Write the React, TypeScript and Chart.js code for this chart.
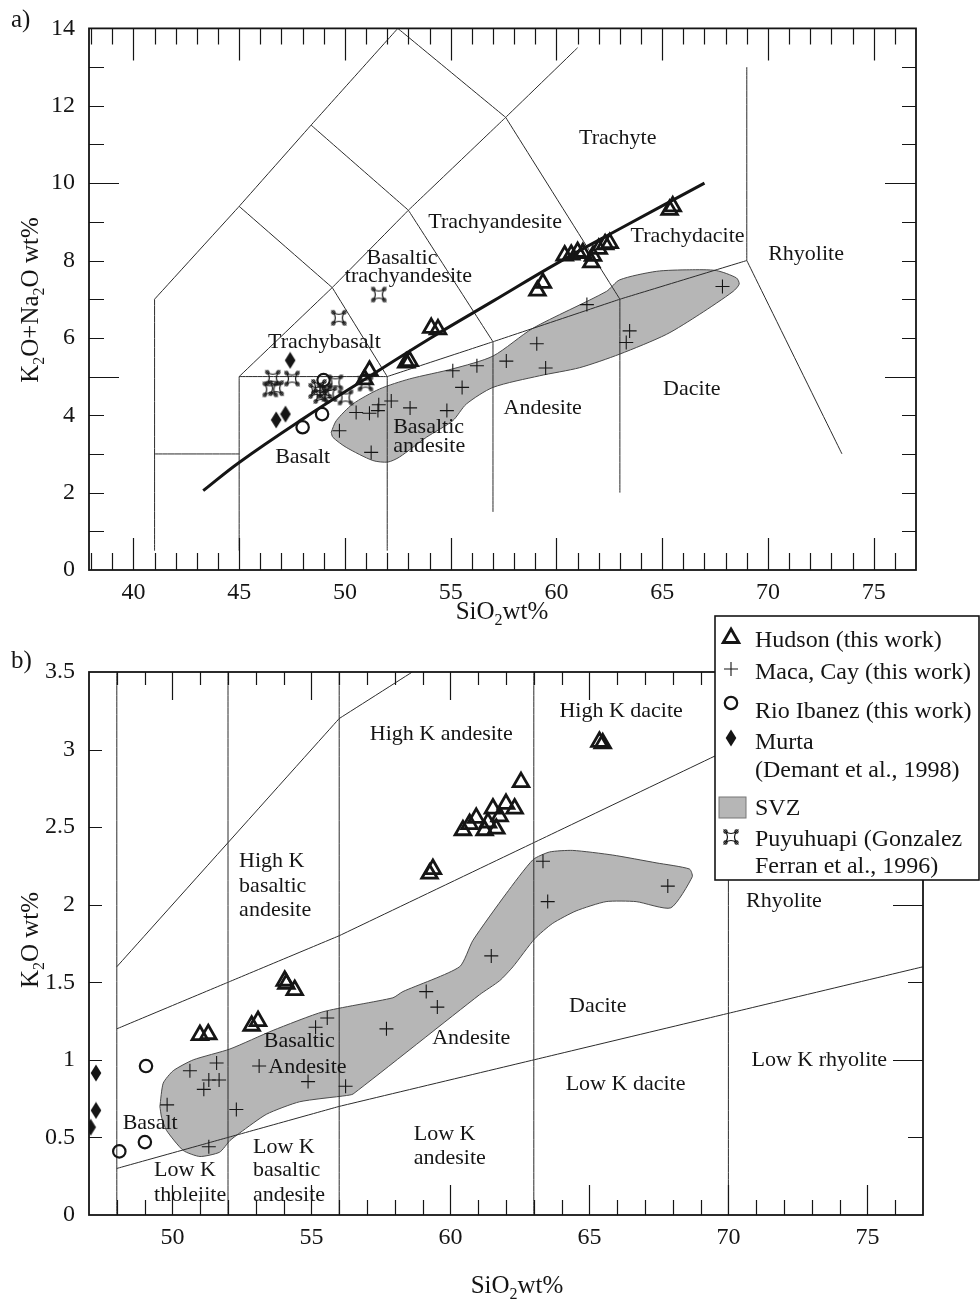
import React, { useEffect, useRef } from 'react';
import { Chart, registerables } from 'chart.js';

Chart.register(...registerables);

type Pt = [number, number];
type Label = [string, number, number, ('left' | 'center')?];
type Kind = 'hudson' | 'maca' | 'rio' | 'murta' | 'puyu';

const FONT = "'Liberation Serif', 'Times New Roman', Times, serif";
const INK = '#151515';
const LINE_INK = '#2b2b2b';
const SVZ_FILL = '#b6b6b6';

// ================= Panel a) TAS diagram =================
const tasXTicks = [40, 45, 50, 55, 60, 65, 70, 75];
const tasYTicks = [0, 2, 4, 6, 8, 10, 12, 14];

const tasHudson: Pt[] = [
  [50.93, 4.93], [51.16, 5.15], [52.9, 5.36], [53.06, 5.4], [54.08, 6.26], [54.4, 6.22],
  [59.1, 7.22], [59.36, 7.42], [60.39, 8.13], [60.7, 8.15], [61.0, 8.22], [61.25, 8.19],
  [61.65, 7.95], [61.73, 8.12], [62.0, 8.3], [62.3, 8.42], [62.52, 8.45], [65.35, 9.31], [65.5, 9.4],
];
const tasMaca: Pt[] = [
  [49.74, 3.6], [51.24, 3.04], [50.53, 4.07], [51.16, 4.05], [51.56, 4.12], [51.6, 4.27],
  [52.19, 4.37], [53.08, 4.19], [54.82, 4.12], [55.1, 5.15], [55.54, 4.72], [56.24, 5.28],
  [57.63, 5.4], [59.07, 5.85], [59.49, 5.22], [61.44, 6.86], [63.46, 6.18], [63.3, 5.88], [67.85, 7.33],
];
const tasRio: Pt[] = [[48.99, 4.91], [48.92, 4.03], [48.0, 3.69]];
const tasMurta: Pt[] = [[47.41, 5.42], [46.75, 3.88], [47.19, 4.03]];
const tasPuyuhuapi: Pt[] = [
  [51.6, 7.12], [49.71, 6.52], [46.59, 4.97], [47.5, 4.95], [46.47, 4.67], [46.75, 4.7],
  [48.77, 4.73], [49.55, 4.85], [49.03, 4.63], [49.27, 4.55], [50.03, 4.46], [50.97, 4.82],
  [48.64, 4.63], [48.88, 4.5],
];
const tasSvz: Pt[] = [
  [49.35, 3.56], [49.59, 3.86], [50.37, 4.29], [51.64, 4.68], [53.06, 4.94], [55.1, 5.2],
  [57.0, 5.53], [58.89, 6.25], [62.36, 7.2], [62.99, 7.5], [64.72, 7.72], [66.3, 7.76],
  [67.56, 7.74], [68.51, 7.55], [68.64, 7.39], [68.35, 7.2], [66.77, 6.61], [65.2, 6.09],
  [62.99, 5.58], [61.1, 5.23], [59.2, 5.02], [57.0, 4.72], [55.74, 4.29], [55.1, 3.86],
  [53.85, 3.43], [52.58, 2.92], [52.03, 2.79], [51.32, 2.83], [50.06, 3.17], [49.43, 3.43], [49.35, 3.56],
];
const tasAlkalineDivide: Pt[] = [
  [43.3, 2.05], [45, 2.78], [48, 3.9], [51, 4.95], [54, 5.98], [57, 6.95],
  [60, 7.92], [63, 8.82], [67, 10.0],
];
const tasFieldLines: Pt[][] = [
  [[41, 0.5], [41, 7], [45, 9.4], [48.4, 11.5], [52.5, 14], [57.6, 11.7], [63, 7], [69, 8], [73.5, 3]],
  [[41, 3], [45, 3]],
  [[45, 0.5], [45, 5], [52, 5], [57, 5.9], [63, 7]],
  [[45, 5], [49.4, 7.3], [53, 9.3], [57.6, 11.7], [61, 13.5]],
  [[45, 9.4], [49.4, 7.3], [52, 5], [52, 0.5]],
  [[48.4, 11.5], [53, 9.3], [57, 5.9], [57, 1.5]],
  [[63, 7], [63, 2]],
  [[69, 8], [69, 13]],
];
const tasFieldNames: Label[] = [
  ['Trachyte', 62.9, 11.17],
  ['Trachyandesite', 57.1, 9.0],
  ['Basaltic', 52.7, 8.05],
  ['trachyandesite', 53.0, 7.6],
  ['Trachybasalt', 49.03, 5.89],
  ['Basalt', 48.0, 2.92],
  ['Basaltic', 52.28, 3.68, 'left'],
  ['andesite', 52.28, 3.19, 'left'],
  ['Andesite', 59.35, 4.17],
  ['Trachydacite', 66.2, 8.62],
  ['Rhyolite', 71.8, 8.16],
  ['Dacite', 66.4, 4.68],
];

// ================= Panel b) K2O vs SiO2 =================
const kXTicks = [50, 55, 60, 65, 70, 75];
const kYTicks = [0, 0.5, 1, 1.5, 2, 2.5, 3, 3.5];

const kHudson: Pt[] = [
  [50.99, 1.16], [51.29, 1.165], [52.85, 1.22], [53.08, 1.25], [54.04, 1.51], [54.1, 1.49],
  [54.4, 1.45], [59.25, 2.2], [59.37, 2.23], [60.45, 2.48], [60.69, 2.52], [60.93, 2.56],
  [61.23, 2.48], [61.35, 2.53], [61.53, 2.62], [61.65, 2.49], [61.77, 2.57], [62.0, 2.65],
  [62.31, 2.62], [62.54, 2.79], [65.36, 3.05], [65.48, 3.04],
];
const kMaca: Pt[] = [
  [49.81, 0.71], [50.63, 0.93], [51.13, 0.81], [51.31, 0.87], [51.59, 0.98], [51.68, 0.87],
  [51.31, 0.44], [52.3, 0.68], [53.12, 0.96], [54.88, 0.86], [55.15, 1.21], [55.57, 1.27],
  [56.23, 0.83], [57.7, 1.2], [59.13, 1.44], [59.53, 1.34], [61.47, 1.67], [63.33, 2.28],
  [63.5, 2.02], [67.82, 2.12],
];
const kRio: Pt[] = [[48.09, 0.41], [49.01, 0.47], [49.05, 0.96]];
const kMurta: Pt[] = [[47.25, 0.915], [47.25, 0.674], [47.06, 0.566]];
const kSvz: Pt[] = [
  [49.55, 0.7], [49.67, 0.85], [50.03, 0.93], [50.75, 1.0], [52.07, 1.07], [53.62, 1.19],
  [55.42, 1.31], [57.93, 1.4], [58.29, 1.44], [60.33, 1.6], [60.81, 1.77], [62.0, 2.07],
  [62.97, 2.29], [63.57, 2.34], [64.4, 2.35], [65.84, 2.32], [67.4, 2.27], [68.6, 2.23],
  [68.7, 2.18], [67.93, 1.98], [66.68, 2.02], [65.6, 2.02], [64.52, 1.96], [63.68, 1.88],
  [63.03, 1.78], [62.25, 1.6], [61.77, 1.51], [61.05, 1.42], [56.5, 0.78], [56.26, 0.77],
  [54.58, 0.73], [53.39, 0.65], [52.43, 0.53], [52.07, 0.48], [51.7, 0.405], [50.99, 0.377],
  [50.39, 0.416], [49.79, 0.545], [49.61, 0.63], [49.55, 0.7],
];
const kFieldLines: Pt[][] = [
  [[48, 0], [48, 3.5]],
  [[52, 0], [52, 3.5]],
  [[56, 0], [56, 3.5]],
  [[63, 0], [63, 3.5]],
  [[70, 0], [70, 3.5]],
  [[48, 1.6], [56, 3.2], [58.63, 3.5]],
  [[48, 1.2], [52, 1.5], [56, 1.8], [63, 2.4], [70, 3.0], [75.83, 3.5]],
  [[48, 0.3], [52, 0.5], [56, 0.7], [63, 1.0], [70, 1.3], [77, 1.6]],
];
const kFieldNames: Label[] = [
  ['High K andesite', 59.67, 3.1],
  ['High K dacite', 66.14, 3.25],
  ['High K', 52.4, 2.283, 'left'],
  ['basaltic', 52.4, 2.119, 'left'],
  ['andesite', 52.4, 1.965, 'left'],
  ['Rhyolite', 72.0, 2.02],
  ['Dacite', 65.3, 1.345],
  ['Andesite', 60.75, 1.14],
  ['Basaltic', 53.29, 1.12, 'left'],
  ['Andesite', 53.45, 0.954, 'left'],
  ['Basalt', 49.2, 0.59],
  ['Low K', 49.34, 0.29, 'left'],
  ['tholeiite', 49.34, 0.13, 'left'],
  ['Low K', 52.9, 0.44, 'left'],
  ['basaltic', 52.9, 0.287, 'left'],
  ['andesite', 52.9, 0.126, 'left'],
  ['Low K', 58.68, 0.52, 'left'],
  ['andesite', 58.68, 0.365, 'left'],
  ['Low K dacite', 66.3, 0.84],
  ['Low K rhyolite', 73.27, 1.0],
];

const legendRows: { kind: Kind | 'svz'; lines: string[] }[] = [
  { kind: 'hudson', lines: ['Hudson (this work)'] },
  { kind: 'maca', lines: ['Maca, Cay (this work)'] },
  { kind: 'rio', lines: ['Rio Ibanez (this work)'] },
  { kind: 'murta', lines: ['Murta', '(Demant et al., 1998)'] },
  { kind: 'svz', lines: ['SVZ'] },
  { kind: 'puyu', lines: ['Puyuhuapi (Gonzalez', 'Ferran et al., 1996)'] },
];

// ================= helpers =================
const toXY = (a: Pt[]) => a.map(([x, y]) => ({ x, y }));

function drawQuatre(g: CanvasRenderingContext2D, cx: number, cy: number) {
  const s = 5.5;
  const k = 4;
  g.save();
  g.strokeStyle = INK;
  g.lineWidth = 1.2;
  g.beginPath();
  g.moveTo(cx - s, cy - s);
  g.quadraticCurveTo(cx, cy - s + k, cx + s, cy - s);
  g.quadraticCurveTo(cx + s - k, cy, cx + s, cy + s);
  g.quadraticCurveTo(cx, cy + s - k, cx - s, cy + s);
  g.quadraticCurveTo(cx - s + k, cy, cx - s, cy - s);
  g.closePath();
  g.stroke();
  const corners: Pt[] = [[cx - s, cy - s], [cx + s, cy - s], [cx + s, cy + s], [cx - s, cy + s]];
  corners.forEach(([x, y]) => {
    g.beginPath();
    g.arc(x, y, 1.6, 0, Math.PI * 2);
    g.stroke();
  });
  g.restore();
}

function drawDiamond(g: CanvasRenderingContext2D, cx: number, cy: number) {
  g.save();
  g.fillStyle = INK;
  g.beginPath();
  g.moveTo(cx, cy - 8.5);
  g.lineTo(cx + 5.3, cy);
  g.lineTo(cx, cy + 8.5);
  g.lineTo(cx - 5.3, cy);
  g.closePath();
  g.fill();
  g.restore();
}

function makeSymbols() {
  const diamond = document.createElement('canvas');
  diamond.width = 12;
  diamond.height = 18;
  drawDiamond(diamond.getContext('2d')!, 6, 9);
  const quatre = document.createElement('canvas');
  quatre.width = 18;
  quatre.height = 18;
  drawQuatre(quatre.getContext('2d')!, 9, 9);
  return { diamond, quatre };
}
type Symbols = ReturnType<typeof makeSymbols>;

function pointDataset(data: Pt[], kind: Kind, sym: Symbols): any {
  const base = { type: 'scatter', data: toXY(data), showLine: false, clip: 0, pointHoverRadius: 0 };
  switch (kind) {
    case 'hudson':
      return { ...base, pointStyle: 'triangle', pointRadius: 9, pointBorderWidth: 2.8, pointBorderColor: INK, pointBackgroundColor: 'rgba(0,0,0,0)', order: 1 };
    case 'maca':
      return { ...base, pointStyle: 'cross', pointRadius: 7, pointBorderWidth: 1.1, pointBorderColor: INK, order: 2 };
    case 'rio':
      return { ...base, pointStyle: 'circle', pointRadius: 6.2, pointBorderWidth: 2.2, pointBorderColor: INK, pointBackgroundColor: 'rgba(0,0,0,0)', order: 3 };
    case 'murta':
      return { ...base, pointStyle: sym.diamond, pointRadius: 7, order: 4 };
    default:
      return { ...base, pointStyle: sym.quatre, pointRadius: 7, order: 5 };
  }
}

// A tiny non-zero tension keeps Chart.js off its "fast path", which retraces
// vertical runs and makes them look bolder than the other boundary lines.
function lineDataset(data: Pt[], width: number, tension: number, order: number, color: string): any {
  return {
    type: 'scatter', data: toXY(data), showLine: true, borderColor: color, borderWidth: width,
    pointRadius: 0, pointHoverRadius: 0, tension: Math.max(tension, 1e-6), fill: false, clip: 0, order,
  };
}

function drawRich(ctx: CanvasRenderingContext2D, parts: [string, boolean][], cx: number, base: number, size: number) {
  const sub = Math.round(size * 0.64);
  const widths = parts.map(([t, s]) => {
    ctx.font = `${s ? sub : size}px ${FONT}`;
    return ctx.measureText(t).width;
  });
  const total = widths.reduce((a, b) => a + b, 0);
  let x = cx - total / 2;
  ctx.textAlign = 'left';
  ctx.textBaseline = 'alphabetic';
  parts.forEach(([t, s], i) => {
    ctx.font = `${s ? sub : size}px ${FONT}`;
    ctx.fillText(t, x, base + (s ? size * 0.24 : 0));
    x += widths[i];
  });
}

function drawLegend(ctx: CanvasRenderingContext2D) {
  const bx = 715, by = 26, bw = 264, bh = 264;
  ctx.fillStyle = '#ffffff';
  ctx.fillRect(bx, by, bw, bh);
  ctx.strokeStyle = INK;
  ctx.lineWidth = 1.6;
  ctx.strokeRect(bx, by, bw, bh);
  const symX = 731, textX = 755;
  const symY = [48, 79, 113, 148, 217, 247];
  const bases = [[56.7], [89], [128.3], [159, 186.7], [225], [255.7, 283.3]];
  legendRows.forEach((row, i) => {
    const cy = symY[i];
    ctx.save();
    ctx.strokeStyle = INK;
    ctx.fillStyle = INK;
    if (row.kind === 'hudson') {
      const r = 9;
      ctx.lineWidth = 2.8;
      ctx.beginPath();
      ctx.moveTo(symX, cy - r);
      ctx.lineTo(symX + r * 0.866, cy + r / 2);
      ctx.lineTo(symX - r * 0.866, cy + r / 2);
      ctx.closePath();
      ctx.stroke();
    } else if (row.kind === 'maca') {
      ctx.lineWidth = 1.1;
      ctx.beginPath();
      ctx.moveTo(symX - 7, cy);
      ctx.lineTo(symX + 7, cy);
      ctx.moveTo(symX, cy - 7);
      ctx.lineTo(symX, cy + 7);
      ctx.stroke();
    } else if (row.kind === 'rio') {
      ctx.lineWidth = 2.2;
      ctx.beginPath();
      ctx.arc(symX, cy, 6.2, 0, Math.PI * 2);
      ctx.stroke();
    } else if (row.kind === 'murta') {
      drawDiamond(ctx, symX, cy);
    } else if (row.kind === 'svz') {
      ctx.fillStyle = SVZ_FILL;
      ctx.fillRect(719, 207, 27, 21);
      ctx.strokeStyle = '#777';
      ctx.lineWidth = 1;
      ctx.strokeRect(719, 207, 27, 21);
    } else {
      drawQuatre(ctx, symX, cy);
    }
    ctx.restore();
    ctx.fillStyle = INK;
    ctx.font = `24px ${FONT}`;
    ctx.textAlign = 'left';
    ctx.textBaseline = 'alphabetic';
    row.lines.forEach((t, j) => ctx.fillText(t, textX, bases[i][j]));
  });
}

interface TickLen { bottom: [number, number]; top: [number, number]; left: [number, number]; right: [number, number] }
interface PanelSpec {
  xMin: number; xMax: number; yMin: number; yMax: number;
  xTicks: number[]; yTicks: number[];
  pad: { top: number; right: number };
  yAxisWidth: number; xAxisHeight: number;
  fieldLines: Pt[][]; svz: Pt[]; svzTension: number; divide?: Pt[];
  series: [Pt[], Kind][];
  names: Label[];
  minor: { xStep: number; xMajor: number; yStep: number; yMajor: number; len: TickLen };
  xTitle: { cx: number; base: number };
  yTitle: { parts: [string, boolean][]; x: number; cy: number };
  panel: { text: string; x: number; base: number };
  legend: boolean;
}

function isMultiple(v: number, m: number) {
  return Math.abs(v / m - Math.round(v / m)) < 1e-6;
}

function decoPlugin(p: PanelSpec) {
  return {
    id: 'deco',
    afterDraw(chart: any) {
      const ctx: CanvasRenderingContext2D = chart.ctx;
      const { left, right, top, bottom } = chart.chartArea;
      const xs = chart.scales.x;
      const ys = chart.scales.y;
      ctx.save();
      // field names
      ctx.fillStyle = INK;
      ctx.font = `22px ${FONT}`;
      ctx.textBaseline = 'middle';
      for (const [t, x, y, al] of p.names) {
        ctx.textAlign = al === 'left' ? 'left' : 'center';
        ctx.fillText(t, xs.getPixelForValue(x), ys.getPixelForValue(y));
      }
      // inward tick marks
      const m = p.minor;
      ctx.strokeStyle = INK;
      ctx.lineWidth = 1.2;
      ctx.beginPath();
      for (let k = Math.ceil(p.xMin / m.xStep); k * m.xStep < p.xMax - 1e-6; k++) {
        const v = k * m.xStep;
        if (v <= p.xMin + 1e-6) continue;
        const major = isMultiple(v, m.xMajor);
        const px = Math.round(xs.getPixelForValue(v)) + 0.5;
        ctx.moveTo(px, bottom);
        ctx.lineTo(px, bottom - (major ? m.len.bottom[1] : m.len.bottom[0]));
        ctx.moveTo(px, top);
        ctx.lineTo(px, top + (major ? m.len.top[1] : m.len.top[0]));
      }
      for (let k = Math.ceil(p.yMin / m.yStep); k * m.yStep < p.yMax - 1e-6; k++) {
        const v = k * m.yStep;
        if (v <= p.yMin + 1e-6) continue;
        const major = isMultiple(v, m.yMajor);
        const py = Math.round(ys.getPixelForValue(v)) + 0.5;
        ctx.moveTo(left, py);
        ctx.lineTo(left + (major ? m.len.left[1] : m.len.left[0]), py);
        ctx.moveTo(right, py);
        ctx.lineTo(right - (major ? m.len.right[1] : m.len.right[0]), py);
      }
      ctx.stroke();
      // frame
      ctx.lineWidth = 1.8;
      ctx.strokeRect(left, top, right - left, bottom - top);
      // titles
      ctx.fillStyle = INK;
      drawRich(ctx, [['SiO', false], ['2', true], ['wt%', false]], p.xTitle.cx, p.xTitle.base, 25);
      ctx.save();
      ctx.translate(p.yTitle.x, p.yTitle.cy);
      ctx.rotate(-Math.PI / 2);
      drawRich(ctx, p.yTitle.parts, 0, 0, 25);
      ctx.restore();
      ctx.font = `25px ${FONT}`;
      ctx.textAlign = 'left';
      ctx.textBaseline = 'alphabetic';
      ctx.fillText(p.panel.text, p.panel.x, p.panel.base);
      if (p.legend) drawLegend(ctx);
      ctx.restore();
    },
  };
}

function buildChart(canvas: HTMLCanvasElement, p: PanelSpec, sym: Symbols) {
  const datasets: any[] = [];
  datasets.push({
    type: 'scatter', data: toXY(p.svz), showLine: true, fill: 'shape', backgroundColor: SVZ_FILL,
    borderColor: '#4a4a4a', borderWidth: 1, tension: p.svzTension, pointRadius: 0, pointHoverRadius: 0, clip: 0, order: 20,
  });
  p.fieldLines.forEach((l) => datasets.push(lineDataset(l, 1, 0, 10, LINE_INK)));
  if (p.divide) datasets.push(lineDataset(p.divide, 3, 0.4, 9, INK));
  p.series.forEach(([d, k]) => datasets.push(pointDataset(d, k, sym)));
  const tickFont = { family: FONT, size: 24 };
  return new Chart(canvas, {
    type: 'scatter',
    data: { datasets },
    plugins: [decoPlugin(p)],
    options: {
      responsive: false,
      maintainAspectRatio: false,
      animation: false,
      devicePixelRatio: 1,
      events: [],
      layout: { padding: { left: 0, right: p.pad.right, top: p.pad.top, bottom: 0 } },
      plugins: { legend: { display: false }, tooltip: { enabled: false } },
      scales: {
        x: {
          type: 'linear', min: p.xMin, max: p.xMax,
          grid: { display: false, drawTicks: false },
          border: { display: false },
          afterBuildTicks: (s: any) => { s.ticks = p.xTicks.map((value) => ({ value })); },
          afterFit: (s: any) => { s.height = p.xAxisHeight; },
          ticks: { font: tickFont, color: INK, padding: 8, maxRotation: 0, autoSkip: false, callback: (v: any) => String(v) },
        },
        y: {
          type: 'linear', min: p.yMin, max: p.yMax,
          grid: { display: false, drawTicks: false },
          border: { display: false },
          afterBuildTicks: (s: any) => { s.ticks = p.yTicks.map((value) => ({ value })); },
          afterFit: (s: any) => { s.width = p.yAxisWidth; },
          ticks: { font: tickFont, color: INK, padding: 14, autoSkip: false, callback: (v: any) => String(v) },
        },
      },
    } as any,
  } as any);
}

const topSpec: PanelSpec = {
  xMin: 37.9, xMax: 77, yMin: 0, yMax: 14,
  xTicks: tasXTicks, yTicks: tasYTicks,
  pad: { top: 26, right: 64 }, yAxisWidth: 89, xAxisHeight: 70,
  fieldLines: tasFieldLines, svz: tasSvz, svzTension: 0.25, divide: tasAlkalineDivide,
  series: [[tasPuyuhuapi, 'puyu'], [tasMurta, 'murta'], [tasRio, 'rio'], [tasMaca, 'maca'], [tasHudson, 'hudson']],
  names: tasFieldNames,
  minor: { xStep: 1, xMajor: 5, yStep: 1, yMajor: 5, len: { bottom: [17, 32], top: [16, 32], left: [15, 30], right: [14, 31] } },
  xTitle: { cx: 502, base: 619 },
  yTitle: { parts: [['K', false], ['2', true], ['O+Na', false], ['2', true], ['O wt%', false]], x: 38, cy: 300 },
  panel: { text: 'a)', x: 11, base: 27 },
  legend: false,
};

const BOT_TOP = 590;
const botSpec: PanelSpec = {
  xMin: 47, xMax: 77, yMin: 0, yMax: 3.5,
  xTicks: kXTicks, yTicks: kYTicks,
  pad: { top: 672 - BOT_TOP, right: 57 }, yAxisWidth: 89, xAxisHeight: 711 - (1215 - BOT_TOP),
  fieldLines: kFieldLines, svz: kSvz, svzTension: 0.2,
  series: [[kMurta, 'murta'], [kRio, 'rio'], [kMaca, 'maca'], [kHudson, 'hudson']],
  names: kFieldNames,
  minor: { xStep: 1, xMajor: 5, yStep: 0.5, yMajor: 1, len: { bottom: [15, 30], top: [13, 28], left: [13, 13], right: [15, 30] } },
  xTitle: { cx: 517, base: 1293 - BOT_TOP },
  yTitle: { parts: [['K', false], ['2', true], ['O wt%', false]], x: 38, cy: 940 - BOT_TOP },
  panel: { text: 'b)', x: 11, base: 668 - BOT_TOP },
  legend: true,
};

export default function App() {
  const topRef = useRef<HTMLCanvasElement>(null);
  const botRef = useRef<HTMLCanvasElement>(null);
  useEffect(() => {
    const sym = makeSymbols();
    const c1 = buildChart(topRef.current!, topSpec, sym);
    const c2 = buildChart(botRef.current!, botSpec, sym);
    return () => {
      c1.destroy();
      c2.destroy();
    };
  }, []);
  return (
    <div style={{ position: 'absolute', left: 0, top: 0, width: 980, height: 1301, background: '#fff', overflow: 'hidden' }}>
      <canvas ref={topRef} width={980} height={640} style={{ position: 'absolute', left: 0, top: 0, width: 980, height: 640 }} />
      <canvas ref={botRef} width={980} height={711} style={{ position: 'absolute', left: 0, top: BOT_TOP, width: 980, height: 711 }} />
    </div>
  );
}
